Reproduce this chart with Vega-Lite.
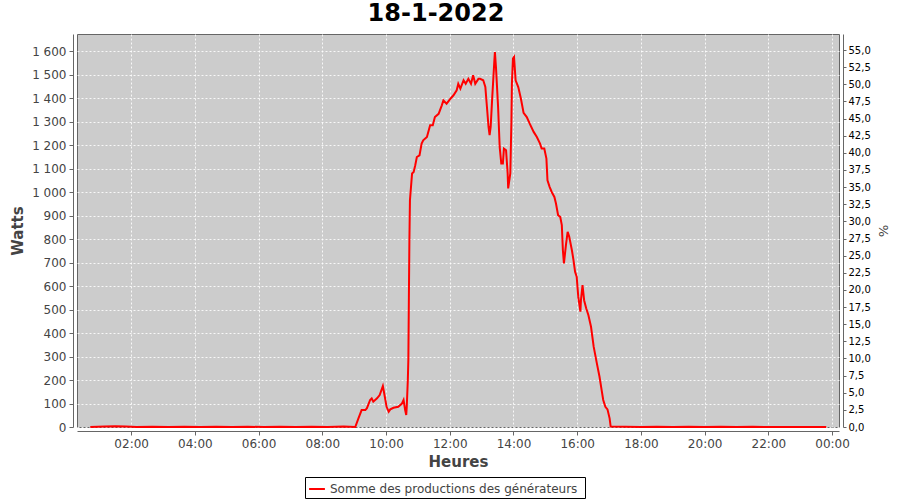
{
  "$schema": "https://vega.github.io/schema/vega-lite/v6.json",
  "width": 762,
  "height": 393,
  "autosize": {"type": "none"},
  "padding": {"left": 77, "top": 34, "right": 61, "bottom": 73},
  "background": "white",
  "title": {"text": "18-1-2022", "font": "DejaVu Sans", "fontSize": 24, "fontWeight": "bold", "color": "black", "anchor": "middle", "offset": 8, "dx": -22},
  "data": {"values": [
    {"t": "2022-01-18T00:43Z", "w": 0},
    {"t": "2022-01-18T01:10Z", "w": 2},
    {"t": "2022-01-18T01:30Z", "w": 3},
    {"t": "2022-01-18T01:50Z", "w": 2},
    {"t": "2022-01-18T02:10Z", "w": 0},
    {"t": "2022-01-18T02:40Z", "w": 1},
    {"t": "2022-01-18T03:10Z", "w": 0},
    {"t": "2022-01-18T03:40Z", "w": 1},
    {"t": "2022-01-18T04:10Z", "w": 0},
    {"t": "2022-01-18T04:40Z", "w": 1},
    {"t": "2022-01-18T05:10Z", "w": 0},
    {"t": "2022-01-18T05:40Z", "w": 1},
    {"t": "2022-01-18T06:10Z", "w": 0},
    {"t": "2022-01-18T06:40Z", "w": 1},
    {"t": "2022-01-18T07:10Z", "w": 0},
    {"t": "2022-01-18T07:40Z", "w": 1},
    {"t": "2022-01-18T08:10Z", "w": 0},
    {"t": "2022-01-18T08:40Z", "w": 2},
    {"t": "2022-01-18T09:02Z", "w": 0},
    {"t": "2022-01-18T09:08Z", "w": 37},
    {"t": "2022-01-18T09:14Z", "w": 72},
    {"t": "2022-01-18T09:21Z", "w": 72},
    {"t": "2022-01-18T09:24Z", "w": 80},
    {"t": "2022-01-18T09:30Z", "w": 115},
    {"t": "2022-01-18T09:33Z", "w": 122},
    {"t": "2022-01-18T09:36Z", "w": 108},
    {"t": "2022-01-18T09:43Z", "w": 122},
    {"t": "2022-01-18T09:48Z", "w": 136},
    {"t": "2022-01-18T09:54Z", "w": 174},
    {"t": "2022-01-18T09:56Z", "w": 150},
    {"t": "2022-01-18T10:01Z", "w": 86},
    {"t": "2022-01-18T10:05Z", "w": 65},
    {"t": "2022-01-18T10:08Z", "w": 75},
    {"t": "2022-01-18T10:14Z", "w": 82},
    {"t": "2022-01-18T10:23Z", "w": 86},
    {"t": "2022-01-18T10:30Z", "w": 100},
    {"t": "2022-01-18T10:33Z", "w": 115},
    {"t": "2022-01-18T10:36Z", "w": 72},
    {"t": "2022-01-18T10:38Z", "w": 51},
    {"t": "2022-01-18T10:39Z", "w": 86},
    {"t": "2022-01-18T10:41Z", "w": 200},
    {"t": "2022-01-18T10:42Z", "w": 285},
    {"t": "2022-01-18T10:43Z", "w": 550},
    {"t": "2022-01-18T10:44Z", "w": 800},
    {"t": "2022-01-18T10:45Z", "w": 966},
    {"t": "2022-01-18T10:49Z", "w": 1080},
    {"t": "2022-01-18T10:52Z", "w": 1086},
    {"t": "2022-01-18T10:55Z", "w": 1115},
    {"t": "2022-01-18T10:58Z", "w": 1150},
    {"t": "2022-01-18T11:03Z", "w": 1157},
    {"t": "2022-01-18T11:07Z", "w": 1207},
    {"t": "2022-01-18T11:10Z", "w": 1221},
    {"t": "2022-01-18T11:17Z", "w": 1235},
    {"t": "2022-01-18T11:23Z", "w": 1285},
    {"t": "2022-01-18T11:28Z", "w": 1285},
    {"t": "2022-01-18T11:32Z", "w": 1320},
    {"t": "2022-01-18T11:39Z", "w": 1334},
    {"t": "2022-01-18T11:45Z", "w": 1370},
    {"t": "2022-01-18T11:48Z", "w": 1391},
    {"t": "2022-01-18T11:54Z", "w": 1377},
    {"t": "2022-01-18T12:01Z", "w": 1398},
    {"t": "2022-01-18T12:07Z", "w": 1413},
    {"t": "2022-01-18T12:13Z", "w": 1434},
    {"t": "2022-01-18T12:16Z", "w": 1462},
    {"t": "2022-01-18T12:20Z", "w": 1441},
    {"t": "2022-01-18T12:26Z", "w": 1477},
    {"t": "2022-01-18T12:30Z", "w": 1462},
    {"t": "2022-01-18T12:35Z", "w": 1483},
    {"t": "2022-01-18T12:40Z", "w": 1462},
    {"t": "2022-01-18T12:44Z", "w": 1498},
    {"t": "2022-01-18T12:48Z", "w": 1462},
    {"t": "2022-01-18T12:54Z", "w": 1483},
    {"t": "2022-01-18T12:57Z", "w": 1483},
    {"t": "2022-01-18T13:03Z", "w": 1477},
    {"t": "2022-01-18T13:07Z", "w": 1448},
    {"t": "2022-01-18T13:10Z", "w": 1363},
    {"t": "2022-01-18T13:13Z", "w": 1278},
    {"t": "2022-01-18T13:15Z", "w": 1243},
    {"t": "2022-01-18T13:17Z", "w": 1278},
    {"t": "2022-01-18T13:20Z", "w": 1405},
    {"t": "2022-01-18T13:24Z", "w": 1562},
    {"t": "2022-01-18T13:25Z", "w": 1597},
    {"t": "2022-01-18T13:27Z", "w": 1533},
    {"t": "2022-01-18T13:31Z", "w": 1363},
    {"t": "2022-01-18T13:34Z", "w": 1193},
    {"t": "2022-01-18T13:37Z", "w": 1122},
    {"t": "2022-01-18T13:40Z", "w": 1122},
    {"t": "2022-01-18T13:42Z", "w": 1186},
    {"t": "2022-01-18T13:46Z", "w": 1179},
    {"t": "2022-01-18T13:49Z", "w": 1080},
    {"t": "2022-01-18T13:50Z", "w": 1016},
    {"t": "2022-01-18T13:54Z", "w": 1080},
    {"t": "2022-01-18T13:56Z", "w": 1292},
    {"t": "2022-01-18T13:57Z", "w": 1462},
    {"t": "2022-01-18T13:59Z", "w": 1569},
    {"t": "2022-01-18T14:01Z", "w": 1576},
    {"t": "2022-01-18T14:04Z", "w": 1477},
    {"t": "2022-01-18T14:09Z", "w": 1448},
    {"t": "2022-01-18T14:14Z", "w": 1398},
    {"t": "2022-01-18T14:19Z", "w": 1338},
    {"t": "2022-01-18T14:25Z", "w": 1320},
    {"t": "2022-01-18T14:31Z", "w": 1290},
    {"t": "2022-01-18T14:38Z", "w": 1257},
    {"t": "2022-01-18T14:44Z", "w": 1235},
    {"t": "2022-01-18T14:50Z", "w": 1207},
    {"t": "2022-01-18T14:53Z", "w": 1186},
    {"t": "2022-01-18T14:58Z", "w": 1186},
    {"t": "2022-01-18T15:02Z", "w": 1143},
    {"t": "2022-01-18T15:04Z", "w": 1051},
    {"t": "2022-01-18T15:08Z", "w": 1023},
    {"t": "2022-01-18T15:12Z", "w": 1001},
    {"t": "2022-01-18T15:17Z", "w": 980},
    {"t": "2022-01-18T15:20Z", "w": 952},
    {"t": "2022-01-18T15:24Z", "w": 902},
    {"t": "2022-01-18T15:28Z", "w": 895},
    {"t": "2022-01-18T15:31Z", "w": 860},
    {"t": "2022-01-18T15:33Z", "w": 753},
    {"t": "2022-01-18T15:35Z", "w": 697},
    {"t": "2022-01-18T15:39Z", "w": 780},
    {"t": "2022-01-18T15:42Z", "w": 831},
    {"t": "2022-01-18T15:45Z", "w": 810},
    {"t": "2022-01-18T15:50Z", "w": 753},
    {"t": "2022-01-18T15:53Z", "w": 711},
    {"t": "2022-01-18T15:56Z", "w": 661},
    {"t": "2022-01-18T15:59Z", "w": 640},
    {"t": "2022-01-18T16:02Z", "w": 554},
    {"t": "2022-01-18T16:06Z", "w": 491},
    {"t": "2022-01-18T16:07Z", "w": 540},
    {"t": "2022-01-18T16:10Z", "w": 604},
    {"t": "2022-01-18T16:13Z", "w": 540},
    {"t": "2022-01-18T16:17Z", "w": 505},
    {"t": "2022-01-18T16:21Z", "w": 477},
    {"t": "2022-01-18T16:26Z", "w": 427},
    {"t": "2022-01-18T16:31Z", "w": 342},
    {"t": "2022-01-18T16:37Z", "w": 271},
    {"t": "2022-01-18T16:42Z", "w": 214},
    {"t": "2022-01-18T16:46Z", "w": 157},
    {"t": "2022-01-18T16:49Z", "w": 115},
    {"t": "2022-01-18T16:53Z", "w": 86},
    {"t": "2022-01-18T16:57Z", "w": 75},
    {"t": "2022-01-18T17:01Z", "w": 37},
    {"t": "2022-01-18T17:03Z", "w": 2},
    {"t": "2022-01-18T17:30Z", "w": 1},
    {"t": "2022-01-18T18:00Z", "w": 0},
    {"t": "2022-01-18T18:30Z", "w": 1},
    {"t": "2022-01-18T19:00Z", "w": 0},
    {"t": "2022-01-18T19:30Z", "w": 1},
    {"t": "2022-01-18T20:00Z", "w": 0},
    {"t": "2022-01-18T20:30Z", "w": 1},
    {"t": "2022-01-18T21:00Z", "w": 0},
    {"t": "2022-01-18T21:30Z", "w": 1},
    {"t": "2022-01-18T22:00Z", "w": 0},
    {"t": "2022-01-18T22:30Z", "w": 0},
    {"t": "2022-01-18T23:00Z", "w": 0},
    {"t": "2022-01-18T23:30Z", "w": 0},
    {"t": "2022-01-18T23:49Z", "w": 0}
  ]},
  "layer": [
    {
      "mark": {"type": "line", "color": "#ff0000", "strokeWidth": 2},
      "encoding": {
        "x": {
          "field": "t", "type": "temporal", "title": "Heures",
          "scale": {"type": "utc", "domain": [1642465080000, 1642551180000]},
          "axis": {
            "format": "%H:%M",
            "values": [1642471200000, 1642478400000, 1642485600000, 1642492800000, 1642500000000, 1642507200000, 1642514400000, 1642521600000, 1642528800000, 1642536000000, 1642543200000, 1642550400000],
            "offset": 4,
            "grid": true, "gridColor": "#ffffff", "gridDash": [2, 2], "gridOpacity": 0.85, "gridWidth": 1,
            "domainColor": "#666666", "tickColor": "#666666", "tickSize": 4,
            "labelFont": "DejaVu Sans", "labelFontSize": 12, "labelColor": "#444444", "labelPadding": 3,
            "titleFont": "DejaVu Sans", "titleFontSize": 15, "titleFontWeight": "bold", "titleColor": "#444444", "titlePadding": 5
          }
        },
        "y": {
          "field": "w", "type": "quantitative", "title": "Watts",
          "scale": {"domain": [0, 1674], "nice": false},
          "axis": {
            "values": [0, 100, 200, 300, 400, 500, 600, 700, 800, 900, 1000, 1100, 1200, 1300, 1400, 1500, 1600],
            "format": ",.0f",
            "offset": 4,
            "grid": true, "gridColor": "#ffffff", "gridDash": [2, 2], "gridOpacity": 0.85, "gridWidth": 1,
            "domainColor": "#666666", "tickColor": "#666666", "tickSize": 4,
            "labelFont": "DejaVu Sans", "labelFontSize": 12, "labelColor": "#444444", "labelPadding": 3,
            "titleFont": "DejaVu Sans", "titleFontSize": 15, "titleFontWeight": "bold", "titleColor": "#444444", "titlePadding": 6
          }
        },
        "color": {
          "datum": "Somme des productions des  générateurs",
          "type": "nominal",
          "scale": {"range": ["#ff0000"]},
          "legend": {
            "title": null, "orient": "none", "legendX": 228, "legendY": 443,
            "strokeColor": "#000000", "padding": 3,
            "labelFont": "DejaVu Sans", "labelFontSize": 12, "labelColor": "#444444", "labelLimit": 400, "labelOffset": 4,
            "symbolType": "stroke", "symbolStrokeWidth": 2, "symbolSize": 250
          }
        }
      }
    },
    {
      "mark": {"type": "rule", "opacity": 0},
      "encoding": {
        "y": {
          "datum": 0, "type": "quantitative",
          "scale": {"domain": [0, 57.34], "nice": false},
          "axis": {
            "orient": "right",
            "title": "%",
            "values": [0, 2.5, 5, 7.5, 10, 12.5, 15, 17.5, 20, 22.5, 25, 27.5, 30, 32.5, 35, 37.5, 40, 42.5, 45, 47.5, 50, 52.5, 55],
            "format": ".1f",
            "offset": 4, "grid": false,
            "domainColor": "#666666", "tickColor": "#666666", "tickSize": 3,
            "labelFont": "DejaVu Sans", "labelFontSize": 10, "labelColor": "#000000", "labelPadding": 2,
            "titleFont": "DejaVu Sans", "titleFontSize": 13, "titleFontWeight": "normal", "titleColor": "#444444", "titlePadding": 5
          }
        }
      }
    }
  ],
  "resolve": {"scale": {"y": "independent"}},
  "config": {
    "locale": {"number": {"decimal": ",", "thousands": " ", "grouping": [3], "currency": ["", " €"]}},
    "view": {"fill": "#cccccc", "stroke": "#666666", "strokeWidth": 1}
  }
}
